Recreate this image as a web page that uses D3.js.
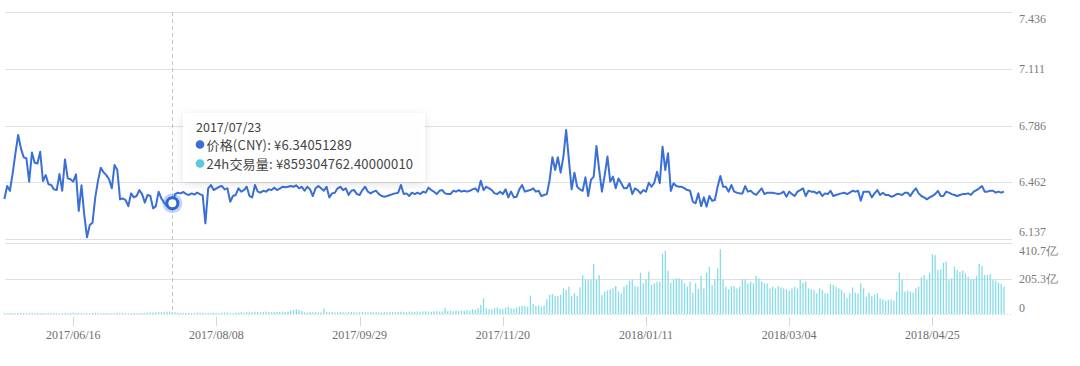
<!DOCTYPE html>
<html><head><meta charset="utf-8">
<script src="https://cdn.jsdelivr.net/npm/d3@7/dist/d3.min.js"></script>
<style>
html,body{margin:0;padding:0;background:#fff;}
svg{display:block;}
.serif{font-family:"Liberation Serif","Times New Roman",serif;}
.tt{font-family:"Noto Sans CJK SC","Noto Sans",sans-serif;}
</style></head>
<body>
<svg id="c" width="1080" height="366"></svg>
<script>
// ---- data ----
const startDate = "2017/05/22";
const endDate = "2018/05/21";
const missingDates = ["2017/07/01"];
const xTickLabels = ["2017/06/16","2017/08/08","2017/09/29","2017/11/20","2018/01/11","2018/03/04","2018/04/25"];
const priceTicks = [6.137, 6.462, 6.786, 7.111, 7.436];
const volumeTicks = [0, 205.3, 410.7];
const volumeTickLabels = ["0", "205.3亿", "410.7亿"];
// 价格 (CNY)
const price = [
6.365,6.439,6.412,6.512,6.627,6.732,6.655,6.604,6.598,6.464,
6.631,6.573,6.569,6.636,6.468,6.502,6.449,6.445,6.420,6.416,
6.508,6.412,6.592,6.483,6.478,6.464,6.506,6.296,6.443,6.273,
6.145,6.215,6.229,6.374,6.470,6.544,6.518,6.502,6.478,6.426,
6.560,6.531,6.363,6.368,6.359,6.324,6.397,6.374,6.382,6.416,
6.393,6.344,6.388,6.382,6.311,6.324,6.407,6.368,6.344,6.324,
6.317,6.3405,6.393,6.401,6.397,6.405,6.393,6.388,6.397,6.390,
6.401,6.393,6.386,6.225,6.426,6.445,6.416,6.426,6.435,6.439,
6.420,6.426,6.349,6.382,6.388,6.426,6.407,6.416,6.435,6.382,
6.374,6.445,6.407,6.401,6.412,6.407,6.420,6.416,6.430,6.416,
6.424,6.435,6.432,6.435,6.439,6.435,6.443,6.426,6.435,6.412,
6.435,6.420,6.382,6.426,6.439,6.426,6.412,6.435,6.374,6.397,
6.401,6.426,6.435,6.416,6.426,6.388,6.412,6.416,6.393,6.388,
6.416,6.435,6.407,6.397,6.407,6.412,6.393,6.382,6.378,6.382,
6.388,6.393,6.397,6.401,6.445,6.393,6.397,6.382,6.401,6.393,
6.401,6.393,6.407,6.401,6.430,6.416,6.407,6.393,6.412,6.416,
6.397,6.393,6.393,6.412,6.407,6.416,6.407,6.412,6.407,6.412,
6.420,6.426,6.407,6.470,6.416,6.435,6.426,6.416,6.397,6.393,
6.407,6.393,6.420,6.374,6.407,6.374,6.378,6.420,6.445,6.407,
6.412,6.416,6.426,6.407,6.412,6.382,6.388,6.393,6.474,6.604,
6.531,6.604,6.516,6.608,6.761,6.588,6.420,6.516,6.435,6.420,
6.412,6.489,6.382,6.474,6.493,6.669,6.531,6.407,6.502,6.608,
6.464,6.493,6.426,6.483,6.455,6.426,6.426,6.455,6.393,6.426,
6.416,6.397,6.416,6.407,6.458,6.435,6.458,6.521,6.455,6.665,
6.531,6.627,6.411,6.455,6.439,6.435,6.435,6.426,6.416,6.412,
6.349,6.340,6.397,6.324,6.374,6.321,6.382,6.355,6.359,6.435,
6.497,6.435,6.435,6.407,6.445,6.407,6.401,6.397,6.397,6.439,
6.407,6.412,6.397,6.388,6.407,6.426,6.393,6.401,6.401,6.401,
6.397,6.393,6.397,6.407,6.378,6.407,6.393,6.382,6.407,6.416,
6.426,6.382,6.412,6.407,6.407,6.397,6.407,6.382,6.397,6.393,
6.412,6.382,6.388,6.393,6.397,6.401,6.393,6.401,6.412,6.407,
6.412,6.355,6.407,6.407,6.407,6.374,6.397,6.416,6.388,6.401,
6.388,6.388,6.378,6.382,6.393,6.393,6.388,6.401,6.401,6.382,
6.407,6.426,6.397,6.382,6.374,6.363,6.374,6.382,6.393,6.412,
6.382,6.382,6.407,6.401,6.393,6.388,6.382,6.388,6.393,6.393,
6.397,6.388,6.407,6.416,6.426,6.439,6.407,6.407,6.412,6.412,
6.401,6.407,6.401,6.407
];
// 24h交易量 (亿 CNY)
const volume = [
7,6,8,7,6,7,8,7,6,7,
8,6,7,6,7,5,6,8,7,6,
5,7,8,6,7,9,8,7,6,5,
6,7,8,9,7,6,7,8,6,5,
6,7,8,7,6,5,7,8,6,7,
8,9,10,11,10,12,13,12,14,15,
16,14,11,9,8,7,8,9,7,8,
10,9,8,7,8,9,10,8,7,9,
10,11,9,8,10,11,12,11,13,14,
12,15,13,12,14,16,13,12,14,15,
13,16,14,15,22,26,29,24,20,12,
11,13,12,14,12,11,34,13,12,14,
11,12,13,12,11,13,14,12,11,12,
13,12,11,13,12,14,12,11,13,12,
14,13,12,14,15,14,13,16,15,14,
17,15,16,18,16,15,17,18,16,17,
38,18,20,17,22,19,21,18,24,20,
30,26,35,54,92,35,30,28,35,40,
32,30,38,42,35,33,40,45,50,48,
44,108,60,48,52,45,50,87,112,118,
106,106,112,150,141,160,106,121,106,156,
227,202,199,199,291,199,227,112,131,137,
145,150,164,131,121,160,170,195,202,164,
160,241,179,202,247,170,179,189,189,349,
368,253,183,202,208,208,199,179,160,189,
125,179,145,222,150,241,276,170,202,266,
376,199,160,145,164,164,150,160,202,202,
179,189,179,222,208,189,179,179,150,160,
150,164,156,150,145,137,150,160,150,202,
183,189,150,145,141,121,150,141,121,121,
175,170,160,150,141,125,93,121,156,125,
121,179,150,102,125,106,112,121,93,87,
79,83,87,79,131,241,199,131,137,131,
125,150,160,214,227,199,241,349,343,256,
260,299,305,202,208,276,256,247,253,237,
218,202,202,222,291,280,227,227,233,199,
195,183,175,160
];
const tooltipDate = "2017/07/23";
const tooltipPriceText = "价格(CNY): ¥6.34051289";
const tooltipVolumeText = "24h交易量: ¥859304762.40000010";

// ---- build ----
const fmt = d3.timeFormat("%Y/%m/%d");
const parse = d3.timeParse("%Y/%m/%d");
const dates = d3.timeDay.range(parse(startDate), d3.timeDay.offset(parse(endDate), 1))
  .map(fmt).filter(d => !missingDates.includes(d));
const data = dates.map((d, i) => ({date: d, price: price[i], volume: volume[i]}))
  .filter(d => d.price !== undefined);

const svg = d3.select("#c");
const gridLeft = 5, gridRight = 1012;
const x = d3.scalePoint().domain(data.map(d => d.date)).range([4.4, 1004]);
const yP = d3.scaleLinear().domain([6.137, 7.436]).range([238.7, 12.3]);
const yV = d3.scaleLinear().domain([0, 410.7]).range([314.3, 243.3]);

const gridColor = "#e0e0e0";

// price grid
svg.append("g").selectAll("line").data(priceTicks).join("line")
  .attr("x1", gridLeft).attr("x2", gridRight)
  .attr("y1", d => Math.round(yP(d)) + 0.5).attr("y2", d => Math.round(yP(d)) + 0.5)
  .attr("stroke", gridColor).attr("stroke-width", 1);
svg.append("g").selectAll("text").data(priceTicks).join("text")
  .attr("class", "serif")
  .attr("x", 1019)
  .attr("y", (d, i) => yP(d) + (i === 0 ? -7 : i === priceTicks.length - 1 ? 7 : 0))
  .attr("dominant-baseline", "central")
  .attr("font-size", 12).attr("fill", "#7a7a7a")
  .text(d => d3.format(".3f")(d));

// volume grid
svg.append("g").selectAll("line").data(volumeTicks.slice(1)).join("line")
  .attr("x1", gridLeft).attr("x2", gridRight)
  .attr("y1", d => Math.round(yV(d)) + 0.5).attr("y2", d => Math.round(yV(d)) + 0.5)
  .attr("stroke", gridColor).attr("stroke-width", 1);
svg.append("line")
  .attr("x1", gridLeft).attr("x2", gridRight)
  .attr("y1", Math.round(yV(0)) + 0.5).attr("y2", Math.round(yV(0)) + 0.5)
  .attr("stroke", "#d8d8d8").attr("stroke-dasharray", "1,2");
svg.append("g").selectAll("text").data(volumeTicks).join("text")
  .attr("class", "serif")
  .attr("x", 1019)
  .attr("y", (d, i) => yV(d) + (i === 0 ? -6.5 : i === volumeTicks.length - 1 ? 7.5 : 0))
  .attr("dominant-baseline", "central")
  .attr("font-size", 12).attr("fill", "#7a7a7a")
  .text((d, i) => volumeTickLabels[i]);

// x axis ticks
const xt = svg.append("g");
xt.selectAll("line").data(xTickLabels).join("line")
  .attr("x1", d => Math.round(x(d)) + 0.5).attr("x2", d => Math.round(x(d)) + 0.5)
  .attr("y1", 317).attr("y2", 326).attr("stroke", "#d6d6d6");
xt.selectAll("text").data(xTickLabels).join("text")
  .attr("class", "serif")
  .attr("x", d => x(d)).attr("y", 335).attr("dominant-baseline", "central")
  .attr("text-anchor", "middle")
  .attr("font-size", 12).attr("fill", "#6e6e6e")
  .text(d => d);

// volume bars
svg.append("g").selectAll("rect").data(data).join("rect")
  .attr("x", d => x(d.date) - 0.65).attr("width", 1.3)
  .attr("y", d => yV(d.volume)).attr("height", d => yV(0) - yV(d.volume))
  .attr("fill", "#86dde8");

// hover dashed line
const hx = x(tooltipDate);
svg.append("line").attr("x1", Math.round(hx) + 0.5).attr("x2", Math.round(hx) + 0.5)
  .attr("y1", 12).attr("y2", 314).attr("stroke", "#c4c4c4").attr("stroke-dasharray", "4,3");

// price line
svg.append("path").datum(data)
  .attr("d", d3.line().x(d => x(d.date)).y(d => yP(d.price)))
  .attr("fill", "none").attr("stroke", "#3a6fd6").attr("stroke-width", 2)
  .attr("stroke-linejoin", "round");

// hover point
const hp = data.find(d => d.date === tooltipDate);
svg.append("circle").attr("cx", hx).attr("cy", yP(hp.price)).attr("r", 10)
  .attr("fill", "#3a6fd6").attr("fill-opacity", 0.3);
svg.append("circle").attr("cx", hx).attr("cy", yP(hp.price)).attr("r", 5.5)
  .attr("fill", "#fff").attr("stroke", "#2f66d0").attr("stroke-width", 3);

// tooltip
const defs = svg.append("defs");
const f = defs.append("filter").attr("id", "sh").attr("x", "-20%").attr("y", "-30%").attr("width", "140%").attr("height", "170%");
f.append("feDropShadow").attr("dx", 0).attr("dy", 2).attr("stdDeviation", 5)
  .attr("flood-color", "#000").attr("flood-opacity", 0.12);
const tt = svg.append("g").attr("transform", "translate(183,113)");
tt.append("rect").attr("width", 242).attr("height", 69).attr("fill", "#fff")
  .attr("fill-opacity", 0.94).attr("filter", "url(#sh)");
tt.append("text").attr("class", "tt").attr("x", 13).attr("y", 13.5).attr("dominant-baseline", "central")
  .attr("font-size", 12.5).attr("fill", "#444").text(tooltipDate);
tt.append("circle").attr("cx", 17).attr("cy", 31.5).attr("r", 4.3).attr("fill", "#3a6fd6");
tt.append("text").attr("class", "tt").attr("x", 23.5).attr("y", 31.5).attr("dominant-baseline", "central")
  .attr("font-size", 13).attr("letter-spacing", 0.18).attr("fill", "#444").text(tooltipPriceText);
tt.append("circle").attr("cx", 17).attr("cy", 50.5).attr("r", 4.3).attr("fill", "#5bc8dc");
tt.append("text").attr("class", "tt").attr("x", 23.5).attr("y", 50.5).attr("dominant-baseline", "central")
  .attr("font-size", 13).attr("letter-spacing", 0.2).attr("fill", "#444").text(tooltipVolumeText);
</script>
</body></html>
